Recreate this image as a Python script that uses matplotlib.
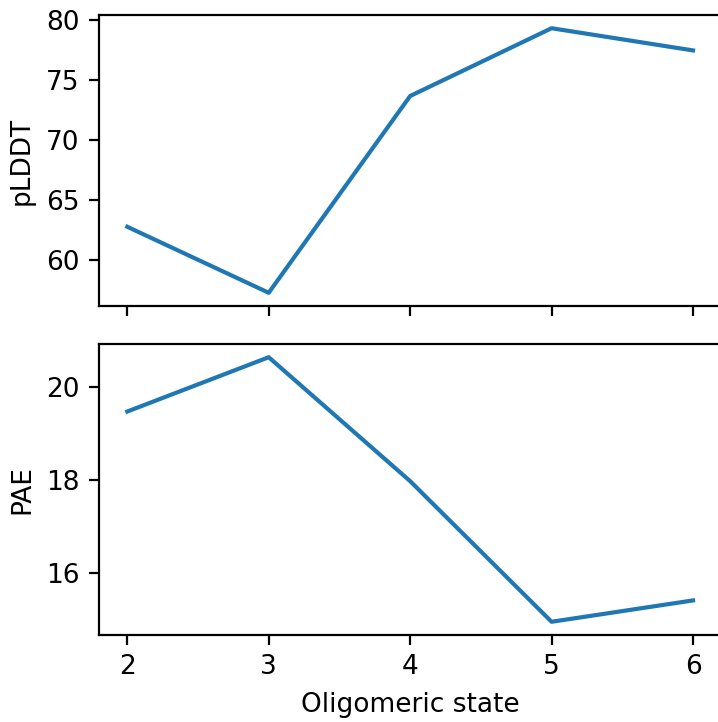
import matplotlib
matplotlib.use("Agg")
import matplotlib.pyplot as plt

# oligomeric states and AlphaFold scores
states = [2, 3, 4, 5, 6]
plddt = [62.75, 57.25, 73.65, 79.3, 77.45]
pae = [19.48, 20.65, 17.98, 14.95, 15.41]

plt.rcParams["font.size"] = 9.5

W, H = 718, 722
fig = plt.figure(figsize = (W / 200, H / 200), dpi = 200)

left = 99 / W
right = 721.3 / W
ax1 = fig.add_axes([left, 1 - 306 / H, right - left, 291 / H])
ax2 = fig.add_axes([left, 1 - 635 / H, right - left, 291 / H], sharex = ax1)

ax1.plot(states, plddt)
ax1.set_ylabel("pLDDT")
ax1.tick_params(labelbottom = False)

ax2.plot(states, pae)
ax2.set_ylabel("PAE")
ax2.set_xlabel("Oligomeric state")
ax2.set_xticks(states)

fig.savefig("out.png", dpi = 200)
